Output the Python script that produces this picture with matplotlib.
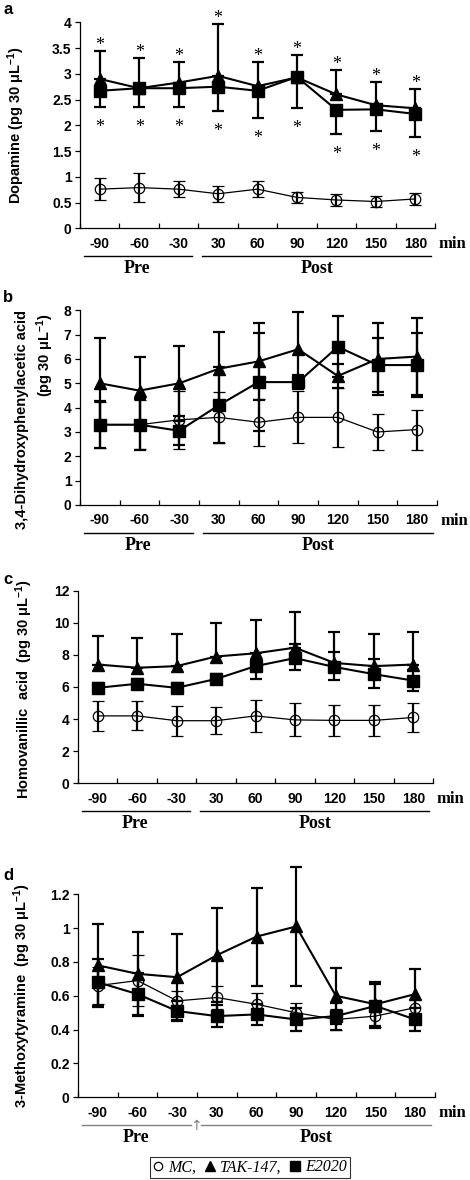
import numpy as np
import matplotlib
matplotlib.use('Agg')
import matplotlib.pyplot as plt
from matplotlib.lines import Line2D
from matplotlib.transforms import ScaledTranslation
from matplotlib.ticker import FormatStrFormatter

plt.rcParams['font.family'] = ['Liberation Sans', 'DejaVu Sans']
plt.rcParams['font.weight'] = 'bold'
plt.rcParams['mathtext.fontset'] = 'custom'
plt.rcParams['mathtext.rm'] = 'Liberation Sans:bold'
plt.rcParams['mathtext.it'] = 'Liberation Sans:bold'
plt.rcParams['mathtext.bf'] = 'Liberation Sans:bold'

SERIF = 'Liberation Serif'

# time points (min)
time_labels = ['-90', '-60', '-30', '30', '60', '90', '120', '150', '180']

# a: dopamine
da_mc = [0.76, 0.79, 0.76, 0.67, 0.76, 0.60, 0.55, 0.52, 0.57]
da_mc_err = [0.22, 0.28, 0.16, 0.15, 0.15, 0.11, 0.12, 0.11, 0.12]
da_tak = [2.90, 2.72, 2.83, 2.96, 2.76, 2.93, 2.60, 2.39, 2.33]
da_tak_hi = [0.54, 0.59, 0.40, 1.01, 0.47, 0.43, 0.47, 0.45, 0.37]
da_e2020 = [2.67, 2.72, 2.72, 2.75, 2.67, 2.94, 2.30, 2.31, 2.22]
da_e2020_lo = [0.31, 0.36, 0.36, 0.47, 0.52, 0.61, 0.46, 0.42, 0.44]

# b: DOPAC
dopac_mc = [3.3, 3.3, 3.5, 3.6, 3.4, 3.6, 3.6, 3.0, 3.1]
dopac_mc_err = [0.95, 1.0, 1.2, 1.05, 0.96, 1.07, 1.2, 0.75, 0.82]
dopac_tak = [5.0, 4.7, 5.0, 5.6, 5.9, 6.4, 5.3, 6.0, 6.1]
dopac_tak_err = [1.85, 1.4, 1.55, 1.5, 1.57, 1.52, 0.5, 1.49, 1.57]
dopac_e2020 = [3.3, 3.3, 3.05, 4.1, 5.05, 5.05, 6.5, 5.75, 5.75]
dopac_e2020_err = [0.97, 1.05, 0.6, 1.55, 2.0, 0.3, 1.25, 1.1, 1.3]

# c: HVA
hva_mc = [4.2, 4.2, 3.9, 3.9, 4.2, 3.95, 3.92, 3.92, 4.1]
hva_mc_err = [0.95, 0.9, 0.93, 0.83, 1.0, 1.03, 0.95, 0.95, 0.9]
hva_tak = [7.4, 7.2, 7.3, 7.9, 8.1, 8.45, 7.5, 7.3, 7.4]
hva_tak_hi = [1.77, 1.85, 2.0, 2.1, 2.1, 2.25, 1.9, 2.0, 2.0]
hva_e2020 = [5.95, 6.2, 5.95, 6.5, 7.3, 7.8, 7.25, 6.8, 6.4]
hva_e2020_lo = [0.3, 0.3, 0.3, 0.3, 0.8, 0.75, 0.8, 0.85, 0.65]
hva_e2020_hi = [0.3, 0.3, 0.3, 0.3, 0.3, 0.9, 0.9, 0.95, 0.65]

# d: 3-MT
mt_mc = [0.66, 0.69, 0.57, 0.59, 0.55, 0.50, 0.46, 0.48, 0.53]
mt_mc_err = [0.11, 0.15, 0.06, 0.07, 0.065, 0.06, 0.06, 0.065, 0.05]
mt_tak = [0.78, 0.73, 0.71, 0.84, 0.95, 1.01, 0.60, 0.55, 0.61]
mt_tak_err = [0.245, 0.25, 0.254, 0.277, 0.29, 0.35, 0.167, 0.13, 0.15]
mt_e2020 = [0.68, 0.61, 0.51, 0.48, 0.49, 0.46, 0.48, 0.54, 0.46]
mt_e2020_err = [0.14, 0.125, 0.06, 0.063, 0.06, 0.07, 0.08, 0.13, 0.07]

ZERO = [0.0] * len(time_labels)

fig = plt.figure(figsize=(4.7, 11.8), dpi=100)


def px_axes(left, top, right, bottom):
    # axes rectangle given in pixels of the 470x1180 figure
    return fig.add_axes([left / 470, 1 - bottom / 1180,
                         (right - left) / 470, (bottom - top) / 1180])


def draw_panel(ax, mc, mc_err, tak, tak_err, e20, e20_err, ymax, ystep):
    x = np.arange(len(time_labels))
    common = dict(color='black', elinewidth=1.6, capsize=4.3, capthick=1.6,
                  clip_on=False)
    ax.errorbar(x, mc, yerr=mc_err, fmt='-o', ms=7.5, mfc='none', mec='black',
                mew=0.9, lw=0.9, zorder=3, **common)
    ax.errorbar(x, tak, yerr=tak_err, fmt='-^', ms=8.5, mfc='black', mec='black',
                lw=1.5, zorder=4, **common)
    ax.errorbar(x, e20, yerr=e20_err, fmt='-s', ms=8, mfc='black', mec='black',
                lw=1.5, zorder=5, **common)

    ax.set_xlim(-0.5, len(time_labels) - 0.5)
    ax.set_ylim(0, ymax)
    ax.set_yticks(np.round(np.arange(0, ymax + ystep / 2, ystep), 2))
    ax.yaxis.set_major_formatter(FormatStrFormatter('%g'))

    ax.set_xticks(np.arange(-0.5, len(time_labels), 1.0))
    ax.set_xticklabels([])
    ax.set_xticks(x, minor=True)
    ax.set_xticklabels(time_labels, minor=True)
    ax.tick_params(axis='x', which='major', direction='in', length=3.6, width=0.9)
    ax.tick_params(axis='x', which='minor', length=0, pad=6, labelsize=10)
    ax.tick_params(axis='y', direction='out', length=3.6, width=0.9, pad=2.5,
                   labelsize=10)
    for side in ['top', 'right']:
        ax.spines[side].set_visible(False)
    for side in ['left', 'bottom']:
        ax.spines[side].set_linewidth(0.9)


def draw_periods(ax, color='black', arrow=False):
    line_tr = ax.get_xaxis_transform() + ScaledTranslation(0, -0.28, fig.dpi_scale_trans)
    ax.plot([-0.4, 2.35], [0, 0], transform=line_tr, color=color, lw=1, clip_on=False)
    ax.plot([2.6, 8.4], [0, 0], transform=line_tr, color=color, lw=1, clip_on=False)
    txt = dict(xycoords=('data', 'axes fraction'), textcoords='offset points',
               ha='center', va='center', family=SERIF, weight='bold', fontsize=13)
    ax.annotate('Pre', xy=(0.95, 0), xytext=(0, -29), **txt)
    ax.annotate('Post', xy=(5.5, 0), xytext=(0, -29), **txt)
    ax.annotate('min', xy=(1, 0), xycoords='axes fraction', xytext=(2.5, -11.5),
                textcoords='offset points', ha='left', va='center', family=SERIF,
                weight='bold', fontsize=12)
    if arrow:
        ax.annotate('\u2191', xy=(2.47, 0), xycoords=('data', 'axes fraction'),
                    xytext=(0, -21), textcoords='offset points', ha='center',
                    va='center', family='DejaVu Sans', weight='normal',
                    fontsize=10, color=color)


def add_stars(ax, vals, offs, sign):
    for i, (v, e) in enumerate(zip(vals, offs)):
        y = v + sign * e
        dy = 0.7 if sign > 0 else -18
        ax.annotate('*', xy=(i, y), xytext=(0, dy), textcoords='offset points',
                    ha='center', va='baseline', family=SERIF, weight='normal',
                    fontsize=13, annotation_clip=False)


# panel a
ax_a = px_axes(80, 22.3, 435, 228.3)
draw_panel(ax_a, da_mc, da_mc_err, da_tak, [ZERO, da_tak_hi],
           da_e2020, [da_e2020_lo, ZERO], 4, 0.5)
add_stars(ax_a, da_tak, da_tak_hi, 1)
add_stars(ax_a, da_e2020, da_e2020_lo, -1)
ax_a.set_ylabel('Dopamine (pg 30 \u03bcL$^{-1}$)', fontsize=10.5, weight='bold')
ax_a.yaxis.set_label_coords(-0.149, 0.5)
draw_periods(ax_a)

# panel b (two-line label, each line placed on its own)
ax_b = px_axes(80, 310.3, 437, 505)
draw_panel(ax_b, dopac_mc, dopac_mc_err, dopac_tak, dopac_tak_err,
           dopac_e2020, dopac_e2020_err, 8, 1)
ax_b.text(-0.1625, 0.437, '3,4-Dihydroxyphenylacetic acid', transform=ax_b.transAxes,
          rotation=90, ha='center', va='center', fontsize=10.5, weight='bold')
ax_b.text(-0.098, 0.77, '(pg 30 \u03bcL$^{-1}$)', transform=ax_b.transAxes,
          rotation=90, ha='center', va='center', fontsize=10.5, weight='bold')
draw_periods(ax_b)

# panel c
ax_c = px_axes(78, 590.7, 433, 783.3)
draw_panel(ax_c, hva_mc, hva_mc_err, hva_tak, [ZERO, hva_tak_hi],
           hva_e2020, [hva_e2020_lo, hva_e2020_hi], 12, 2)
ax_c.set_ylabel('Homovanillic  acid  (pg 30 \u03bcL$^{-1}$)', fontsize=10.5, weight='bold')
ax_c.yaxis.set_label_coords(-0.121, 0.49)
draw_periods(ax_c)

# panel d
ax_d = px_axes(78, 894.3, 435, 1097.3)
draw_panel(ax_d, mt_mc, mt_mc_err, mt_tak, mt_tak_err,
           mt_e2020, mt_e2020_err, 1.2, 0.2)
ax_d.set_ylabel('3-Methoxytyramine  (pg 30 \u03bcL$^{-1}$)', fontsize=10.5, weight='bold')
ax_d.yaxis.set_label_coords(-0.126, 0.5)
draw_periods(ax_d, color='#808080', arrow=True)

# panel letters
for letter, ypx in [('a', 10), ('b', 297), ('c', 580), ('d', 875)]:
    fig.text(3 / 470, 1 - ypx / 1180, letter, fontsize=12, weight='bold',
             ha='left', va='center')

# legend
handles = [
    Line2D([], [], ls='none', marker='o', ms=6, mfc='none', mec='black', mew=0.9),
    Line2D([], [], ls='none', marker='^', ms=6.5, mfc='black', mec='black'),
    Line2D([], [], ls='none', marker='s', ms=6.5, mfc='black', mec='black'),
]
leg = fig.legend(handles, ['MC,', 'TAK-147,', 'E2020'], loc='center',
                 bbox_to_anchor=(0.531, 0.0106), ncol=3,
                 prop={'family': SERIF, 'style': 'italic', 'weight': 'normal', 'size': 11.5},
                 frameon=True, fancybox=False, edgecolor='black', handlelength=0.7,
                 handletextpad=0.3, columnspacing=0.5, borderpad=0.15, borderaxespad=0)
leg.get_frame().set_linewidth(0.8)

fig.savefig('out.png', dpi=100)
